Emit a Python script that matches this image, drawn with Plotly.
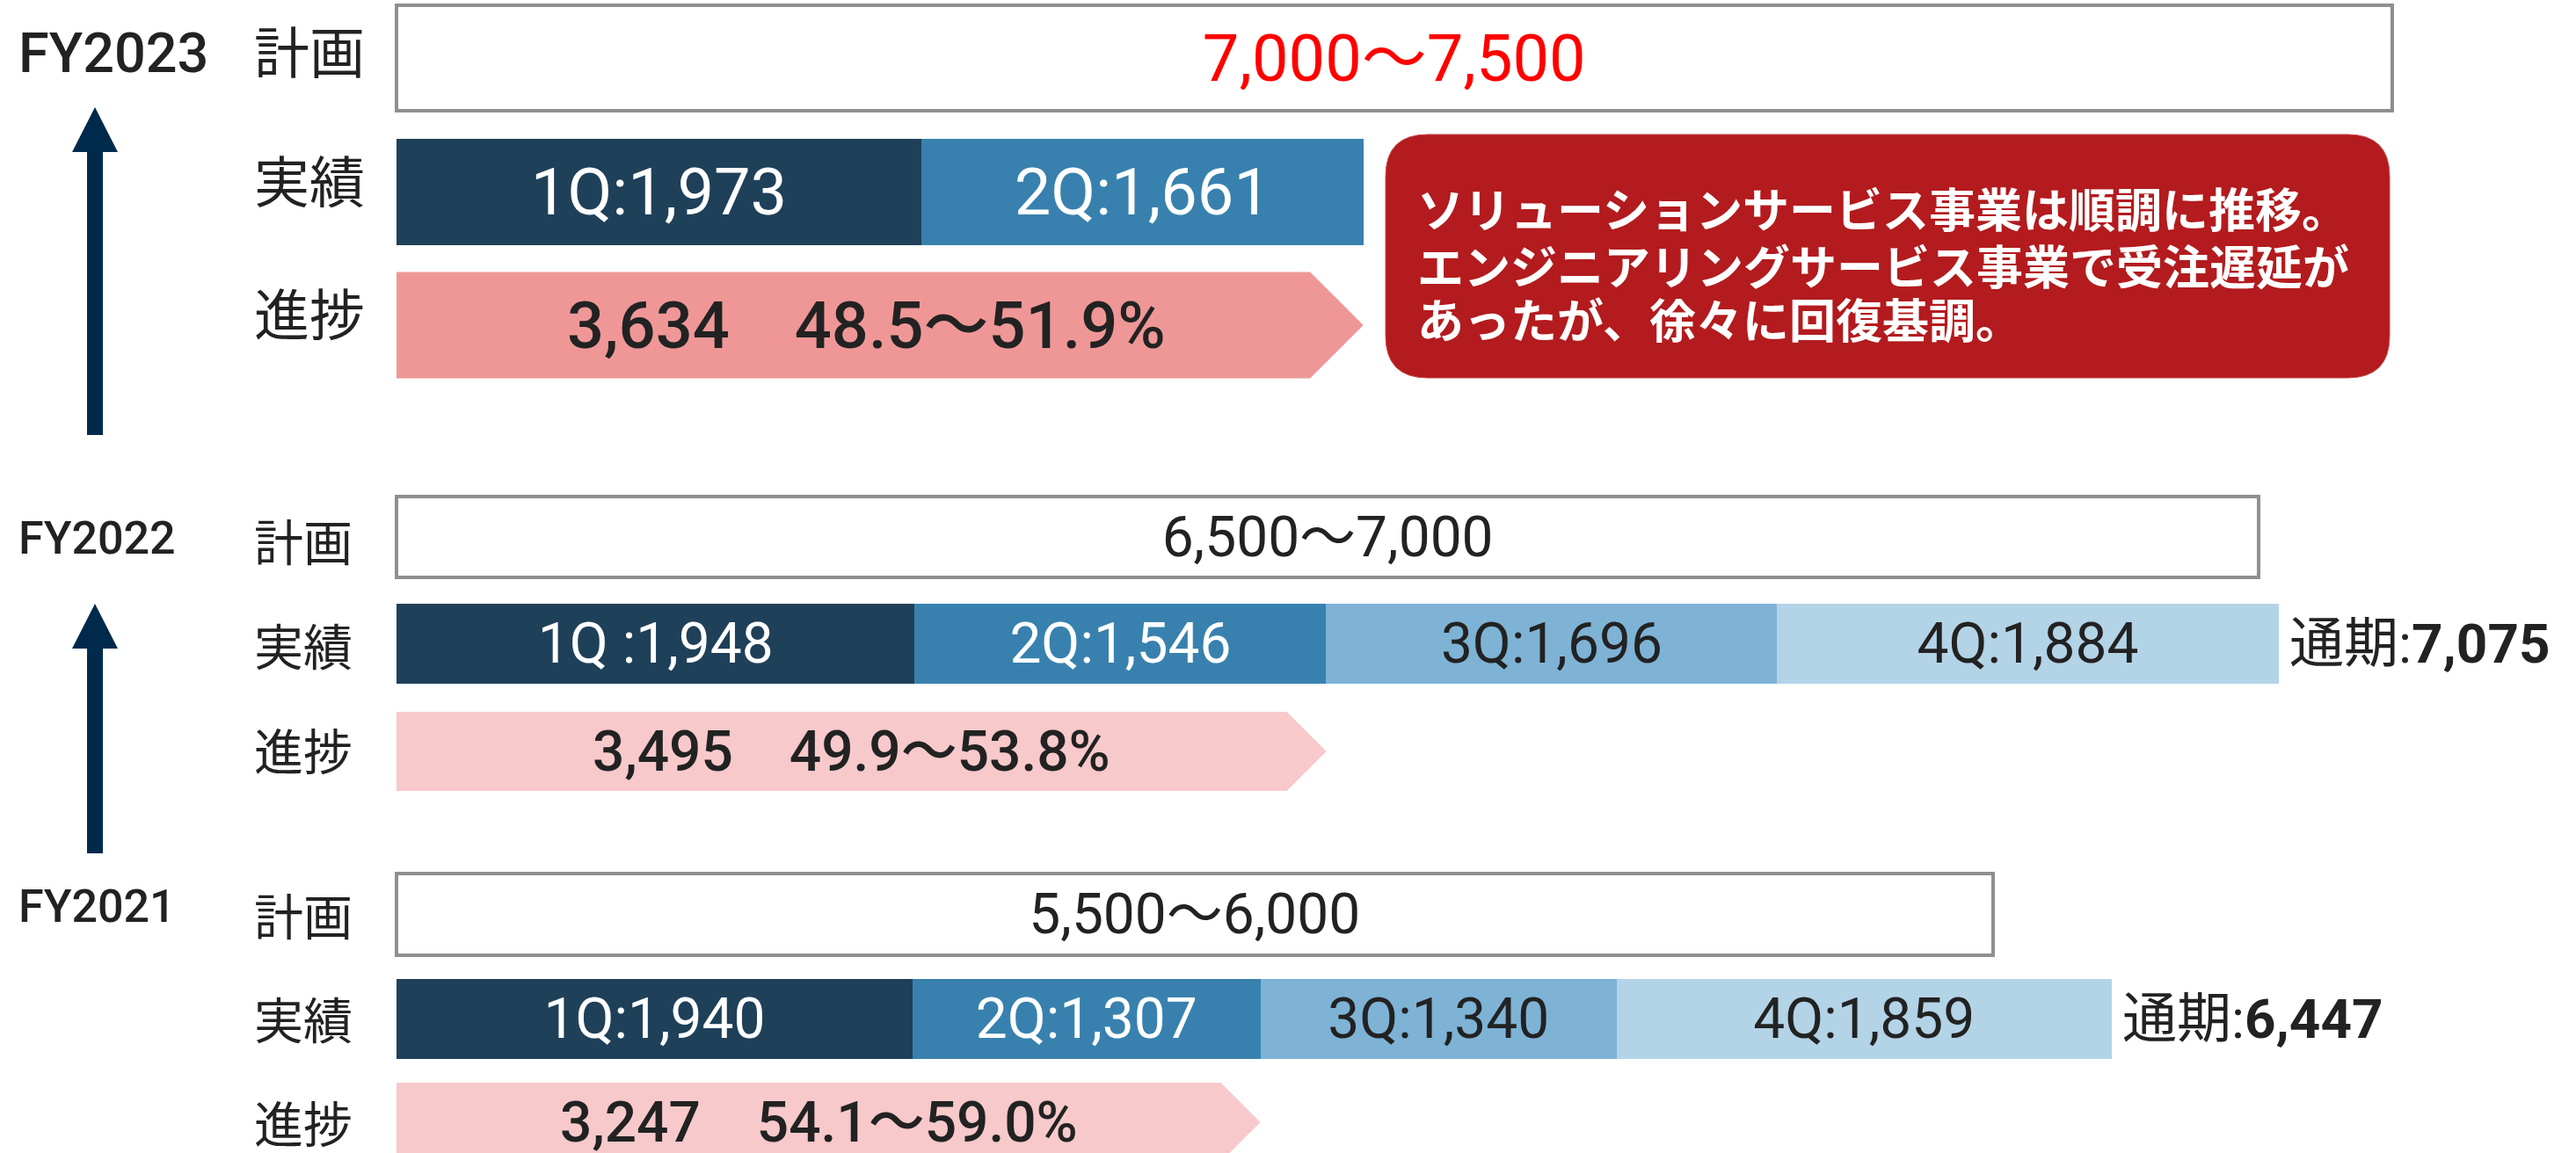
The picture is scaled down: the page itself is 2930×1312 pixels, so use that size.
import plotly.graph_objects as go

# ---------------- data ----------------
years = ["FY2023", "FY2022", "FY2021"]
row_labels = ["計画", "実績", "進捗"]
plan_low = [7000, 6500, 5500]
plan_high = [7500, 7000, 6000]
q1 = [1973, 1948, 1940]
q2 = [1661, 1546, 1307]
q3 = [None, 1696, 1340]
q4 = [None, 1884, 1859]
q1_text = ["1Q:1,973", "1Q :1,948", "1Q:1,940"]
q2_text = ["2Q:1,661", "2Q:1,546", "2Q:1,307"]
q3_text = ["", "3Q:1,696", "3Q:1,340"]
q4_text = ["", "4Q:1,884", "4Q:1,859"]
full_year = [None, 7075, 6447]
full_year_label = "通期"
progress = [3634, 3495, 3247]
progress_rate = ["48.5～51.9%", "49.9～53.8%", "54.1～59.0%"]
note_lines = [
    "ソリューションサービス事業は順調に推移。",
    "エンジニアリングサービス事業で受注遅延が",
    "あったが、徐々に回復基調。",
]

# ---------------- layout / style ----------------
W, H = 2930, 1312
X0PX = 451          # pixel of value 0
SCALE = 0.3026      # pixels per unit
FONT = "Roboto, 'Noto Sans CJK JP', sans-serif"
CJK = "'Noto Sans CJK JP', Roboto, sans-serif"
DARK = "#222222"

plan_y = [66, 611, 1040]
plan_h = [120, 92, 93]
act_y = [218, 732, 1159]
act_h = [121, 91, 91]
prog_y = [370, 855, 1277]
prog_h = [121, 90, 90]
big_font = [74, 64, 64]
lab_font = [63, 56, 56]
year_font = [63, 52, 52]
year_y = [60, 612, 1031]
lab_y = [[55, 202, 353], [613, 732, 851], [1039, 1157, 1275]]
plan_text_color = ["#FF0000", DARK, DARK]
prog_color = ["#EF9797", "#F7C9CB", "#F7C9CB"]
q_colors = ["#1F4059", "#3881AE", "#7EB3D6", "#B3D3E7"]
q_text_colors = ["white", "white", DARK, DARK]
note_y = [236, 301, 362]


def P(px):
    return px / W


fig = go.Figure()

# plan boxes
fig.add_trace(go.Bar(
    orientation="h", y=plan_y, x=plan_high, width=plan_h,
    marker=dict(color="white", line=dict(color="#8F8F8F", width=4)),
    text=[f"{a:,}～{b:,}" for a, b in zip(plan_low, plan_high)],
    textposition="inside", insidetextanchor="middle", textangle=0,
    constraintext="none",
    textfont=dict(family=FONT, size=big_font, color=plan_text_color),
    hoverinfo="skip",
))

# quarterly actuals (stacked)
for vals, txt, col, tcol in zip([q1, q2, q3, q4], [q1_text, q2_text, q3_text, q4_text],
                                q_colors, q_text_colors):
    fig.add_trace(go.Bar(
        orientation="h", y=act_y, x=vals, width=act_h,
        marker=dict(color=col, line=dict(width=0)),
        text=txt, textposition="inside", insidetextanchor="middle", textangle=0,
        constraintext="none",
        textfont=dict(family=FONT, size=big_font, color=tcol),
        hoverinfo="skip",
    ))

# progress arrows
for i, v in enumerate(progress):
    h = prog_h[i]
    d = (h * 0.5) / SCALE
    yc = prog_y[i]
    fig.add_trace(go.Scatter(
        x=[0, v - d, v, v - d, 0, 0],
        y=[yc - h / 2, yc - h / 2, yc, yc + h / 2, yc + h / 2, yc - h / 2],
        mode="lines", fill="toself", fillcolor=prog_color[i],
        line=dict(width=0, color=prog_color[i]), hoverinfo="skip",
    ))
    fig.add_annotation(
        x=(v - d / 2) / 2, y=yc, xref="x", yref="y",
        text=f"{v:,}　{progress_rate[i]}", showarrow=False,
        font=dict(family=FONT, size=big_font[i], color=DARK, weight=500),
        xanchor="center", yanchor="middle",
    )

# full-year totals
for i, fy in enumerate(full_year):
    if fy is None:
        continue
    fig.add_annotation(
        x=fy, y=act_y[i], xref="x", yref="y", xanchor="left", yanchor="middle",
        xshift=10, showarrow=False,
        text=f"{full_year_label}:<b>{fy:,}</b>",
        font=dict(family=FONT, size=62, color=DARK),
    )

# year and row labels
for i, yr in enumerate(years):
    fig.add_annotation(
        x=P(19), y=year_y[i], xref="paper", yref="y", xanchor="left", yanchor="middle",
        showarrow=False, text=yr,
        font=dict(family=FONT, size=year_font[i], color=DARK, weight=500),
    )
    for j, lab in enumerate(row_labels):
        fig.add_annotation(
            x=P(287), y=lab_y[i][j], xref="paper", yref="y", xanchor="left",
            yanchor="middle", showarrow=False, text=lab,
            font=dict(family=CJK, size=lab_font[i], color=DARK),
        )

# upward arrows between years
ARROW = "#002A4B"
for tip, base, bottom in [(122, 173, 495), (687, 738, 971)]:
    cx, hw, sw = 108, 26, 9
    path = (f"M {P(cx)} {tip} L {P(cx + hw)} {base} L {P(cx + sw)} {base} "
            f"L {P(cx + sw)} {bottom} L {P(cx - sw)} {bottom} L {P(cx - sw)} {base} "
            f"L {P(cx - hw)} {base} Z")
    fig.add_shape(type="path", path=path, xref="paper", yref="y",
                  fillcolor=ARROW, line=dict(width=0), layer="above")

# callout box
bx0, bx1, by0, by1, r = 1576, 2718, 153, 430, 48
path = (f"M {P(bx0 + r)} {by0} L {P(bx1 - r)} {by0} Q {P(bx1)} {by0} {P(bx1)} {by0 + r} "
        f"L {P(bx1)} {by1 - r} Q {P(bx1)} {by1} {P(bx1 - r)} {by1} "
        f"L {P(bx0 + r)} {by1} Q {P(bx0)} {by1} {P(bx0)} {by1 - r} "
        f"L {P(bx0)} {by0 + r} Q {P(bx0)} {by0} {P(bx0 + r)} {by0} Z")
fig.add_shape(type="path", path=path, xref="paper", yref="y",
              fillcolor="#B31B1E", line=dict(width=1, color="#C94A4C"), layer="above")
for k, line in enumerate(note_lines):
    fig.add_annotation(
        x=P(1610), y=note_y[k], xref="paper", yref="y",
        xanchor="left", yanchor="middle", showarrow=False, text=line,
        font=dict(family=CJK, size=53, color="white", weight=700),
    )

fig.update_layout(
    width=W, height=H, margin=dict(l=0, r=0, t=0, b=0),
    paper_bgcolor="white", plot_bgcolor="white",
    barmode="stack", showlegend=False,
    xaxis=dict(range=[-X0PX / SCALE, (W - X0PX) / SCALE], visible=False, fixedrange=True),
    yaxis=dict(range=[H, 0], visible=False, fixedrange=True),
    font=dict(family=FONT),
)

fig.write_html(
    "out.html",
    config={"displayModeBar": False},
    post_script="document.body.style.margin='0';document.body.style.overflow='hidden';",
)
